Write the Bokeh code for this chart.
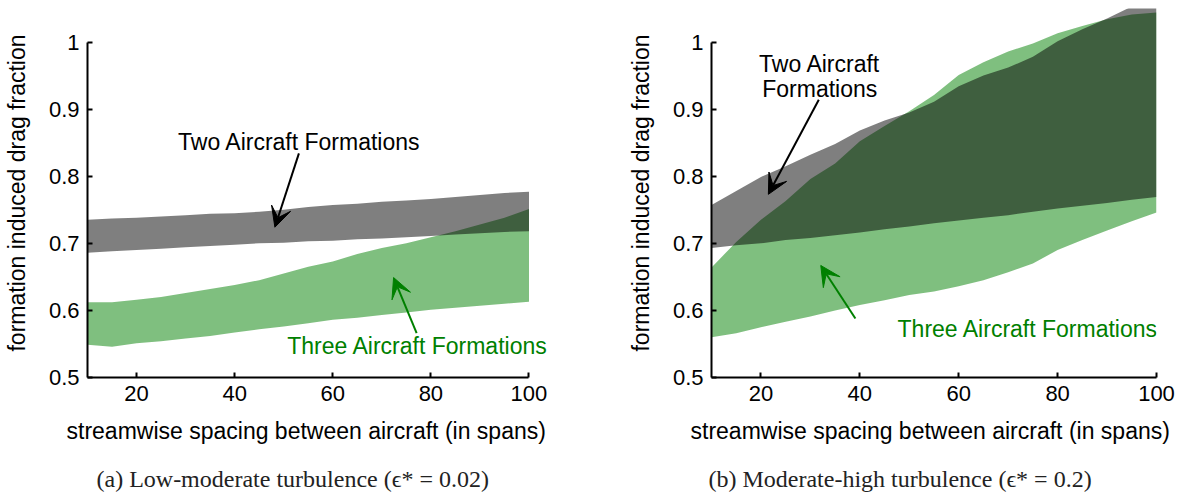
from bokeh.plotting import figure
from bokeh.layouts import row
from bokeh.models import Arrow, VeeHead, FixedTicker, Title, ColumnDataSource, Label
from bokeh.embed import file_html
from bokeh.resources import INLINE

# ---------------- data ----------------
spacing = [10, 15, 20, 25, 30, 35, 40, 45, 50, 55, 60, 65, 70, 75, 80, 85, 90, 95, 100]

# (a) low-moderate turbulence
a_two_upper = [0.735, 0.737, 0.738, 0.740, 0.742, 0.744, 0.745, 0.747, 0.750, 0.754,
               0.757, 0.759, 0.762, 0.764, 0.766, 0.769, 0.772, 0.775, 0.777]
a_two_lower = [0.686, 0.688, 0.690, 0.692, 0.694, 0.696, 0.698, 0.700, 0.701, 0.703,
               0.704, 0.706, 0.707, 0.709, 0.711, 0.713, 0.715, 0.717, 0.718]
a_three_upper = [0.612, 0.612, 0.616, 0.620, 0.626, 0.632, 0.638, 0.645, 0.655, 0.665,
                 0.673, 0.684, 0.693, 0.700, 0.709, 0.718, 0.728, 0.738, 0.751]
a_three_lower = [0.549, 0.546, 0.551, 0.554, 0.558, 0.562, 0.567, 0.572, 0.576, 0.581,
                 0.586, 0.589, 0.593, 0.597, 0.601, 0.604, 0.607, 0.610, 0.613]

# (b) moderate-high turbulence
b_two_upper = [0.757, 0.778, 0.799, 0.815, 0.832, 0.848, 0.868, 0.883, 0.895, 0.911,
               0.934, 0.950, 0.962, 0.978, 1.001, 1.019, 1.035, 1.053, 1.062]
b_two_lower = [0.693, 0.697, 0.700, 0.705, 0.708, 0.712, 0.716, 0.721, 0.725, 0.730,
               0.734, 0.738, 0.742, 0.747, 0.752, 0.756, 0.760, 0.765, 0.769]
b_three_upper = [0.664, 0.702, 0.735, 0.763, 0.796, 0.819, 0.852, 0.875, 0.897, 0.921,
                 0.951, 0.970, 0.986, 0.998, 1.013, 1.024, 1.034, 1.041, 1.044]
b_three_lower = [0.560, 0.566, 0.575, 0.583, 0.591, 0.600, 0.608, 0.615, 0.623, 0.628,
                 0.636, 0.645, 0.657, 0.670, 0.690, 0.705, 0.719, 0.733, 0.746]

x_ticks = [20, 40, 60, 80, 100]
y_ticks = [0.5, 0.6, 0.7, 0.8, 0.9, 1.0]

xlabel = "streamwise spacing between aircraft (in spans)"
ylabel = "formation induced drag fraction"
two_label = "Two Aircraft Formations"
two_label_lines = ["Two Aircraft", "Formations"]
three_label = "Three Aircraft Formations"
caption_a = "(a) Low-moderate turbulence (\u03f5* = 0.02)"
caption_b = "(b) Moderate-high turbulence (\u03f5* = 0.2)"

FONT = "Liberation Sans"
FS_TICK = "22px"
FS = "23px"
GREEN = "#008000"


def make_panel(two_up, two_lo, three_up, three_lo, caption, border_left, border_right,
               frame_w, x_end, cap_offset):
    p = figure(x_range=(10, x_end), y_range=(0.5, 1.05), output_backend="svg",
               toolbar_location=None, frame_width=frame_w, frame_height=369,
               min_border_left=border_left, min_border_right=border_right,
               min_border_top=8, min_border_bottom=105)
    p.outline_line_color = None
    p.xgrid.visible = False
    p.ygrid.visible = False
    p.background_fill_color = "white"
    p.border_fill_color = "white"

    src = ColumnDataSource(dict(x=spacing, tu=two_up, tl=two_lo, hu=three_up, hl=three_lo))
    p.varea(x="x", y1="hl", y2="hu", source=src, fill_color=GREEN, fill_alpha=0.5)
    p.varea(x="x", y1="tl", y2="tu", source=src, fill_color="black", fill_alpha=0.5)

    for ax in (p.xaxis[0], p.yaxis[0]):
        ax.axis_line_width = 2
        ax.axis_line_color = "black"
        ax.major_tick_in = 5
        ax.major_tick_out = 0
        ax.major_tick_line_width = 2
        ax.minor_tick_line_color = None
        ax.major_label_text_font = FONT
        ax.major_label_text_font_size = FS_TICK
        ax.major_label_text_color = "black"
        ax.axis_label_text_font = FONT
        ax.axis_label_text_font_size = FS
        ax.axis_label_text_font_style = "normal"
        ax.axis_label_text_color = "black"

    p.xaxis.ticker = FixedTicker(ticks=x_ticks)
    p.yaxis.ticker = FixedTicker(ticks=y_ticks)
    p.xaxis.bounds = (10, 100)
    p.yaxis.bounds = (0.5, 1.0)
    p.yaxis.major_label_overrides = {1: "1"}
    p.yaxis.axis_label = ylabel
    p.xaxis.major_label_standoff = 8
    p.yaxis.major_label_standoff = 8
    p.yaxis.axis_label_standoff = 16

    # x-axis title, left-aligned so it sits where the reference puts it
    xt = Title(text=xlabel, align="left", text_font=FONT, text_font_size=FS,
               text_font_style="normal", text_color="black", offset=-21, standoff=24)
    p.add_layout(xt, "below")

    t = Title(text=caption, align="left", text_font="Liberation Serif",
              text_font_size="24px", text_font_style="normal", text_color="#222222",
              offset=cap_offset, standoff=17)
    p.add_layout(t, "below")
    return p


def note(p, x, y, text, color):
    p.add_layout(Label(x=x, y=y, text=text, text_font=FONT, text_font_size=FS,
                       text_align="center", text_baseline="alphabetic",
                       text_color=color))


def arrow(p, xs, ys, xe, ye, color):
    p.add_layout(Arrow(end=VeeHead(size=20, fill_color=color, line_color=color),
                       x_start=xs, y_start=ys, x_end=xe, y_end=ye,
                       line_color=color, line_width=2))


# left frame extended a little past 100 (axis still stops at 100) so the label fits
pa = make_panel(a_two_upper, a_two_lower, a_three_upper, a_three_lower, caption_a,
                86, 33, 466, 105, 9)
pb = make_panel(b_two_upper, b_two_lower, b_three_upper, b_three_lower, caption_b,
                125, 20, 445, 100, -3)

# annotations panel (a)
note(pa, 53.2, 0.851, two_label, "black")
arrow(pa, 53.1, 0.834, 48.2, 0.724, "black")
note(pa, 77.3, 0.547, three_label, GREEN)
arrow(pa, 77.1, 0.566, 72.4, 0.649, GREEN)

# annotations panel (b)
note(pb, 31.9, 0.967, two_label_lines[0], "black")
note(pb, 31.9, 0.930, two_label_lines[1], "black")
arrow(pb, 31.7, 0.914, 21.5, 0.773, "black")
note(pb, 74.0, 0.573, three_label, GREEN)
arrow(pb, 39.1, 0.588, 32.1, 0.667, GREEN)

layout = row(pa, pb, spacing=0)
open("out.html", "w").write(file_html(layout, INLINE))
